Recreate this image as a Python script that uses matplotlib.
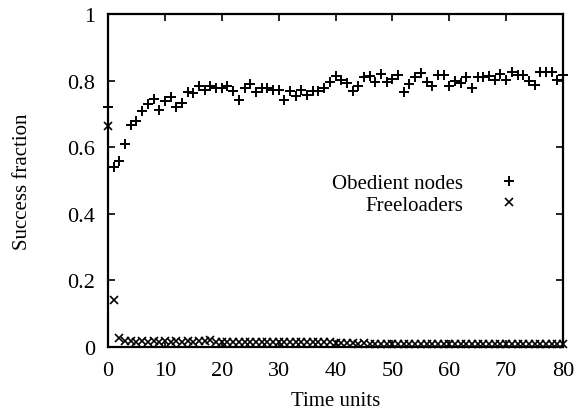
import matplotlib
matplotlib.use("Agg")
import matplotlib.pyplot as plt
import numpy as np

time_units = list(range(0, 81))

obedient = [
    0.72, 0.54, 0.56, 0.61, 0.667, 0.68, 0.71, 0.73, 0.745, 0.713,
    0.74, 0.75, 0.72, 0.733, 0.765, 0.763, 0.785, 0.772, 0.783, 0.778,
    0.778, 0.783, 0.768, 0.742, 0.777, 0.79, 0.767, 0.778, 0.777, 0.772,
    0.772, 0.743, 0.768, 0.753, 0.772, 0.757, 0.77, 0.768, 0.778, 0.797,
    0.813, 0.803, 0.793, 0.768, 0.785, 0.81, 0.813, 0.795, 0.82, 0.795,
    0.805, 0.817, 0.766, 0.79, 0.81, 0.822, 0.795, 0.783, 0.817, 0.817,
    0.783, 0.798, 0.792, 0.812, 0.777, 0.812, 0.812, 0.815, 0.802, 0.82,
    0.803, 0.827, 0.817, 0.817, 0.80, 0.787, 0.825, 0.825, 0.825, 0.802,
    0.818,
]

freeloaders = [
    0.665, 0.14, 0.028, 0.017, 0.017, 0.016, 0.017, 0.016, 0.017, 0.016,
    0.017, 0.016, 0.017, 0.016, 0.017, 0.016, 0.017, 0.017, 0.022, 0.016,
    0.016, 0.016, 0.015, 0.016, 0.015, 0.016, 0.015, 0.016, 0.015, 0.016,
    0.015, 0.015, 0.015, 0.014, 0.015, 0.014, 0.015, 0.014, 0.014, 0.015,
    0.013, 0.012, 0.011, 0.011, 0.010, 0.011, 0.010, 0.010, 0.010, 0.010,
    0.010, 0.010, 0.009, 0.010, 0.009, 0.010, 0.009, 0.009, 0.009, 0.009,
    0.010, 0.009, 0.009, 0.009, 0.009, 0.009, 0.009, 0.009, 0.009, 0.009,
    0.009, 0.009, 0.009, 0.009, 0.009, 0.009, 0.009, 0.009, 0.009, 0.009,
    0.009,
]

x_ticks = [0, 10, 20, 30, 40, 50, 60, 70, 80]
y_ticks = [0, 0.2, 0.4, 0.6, 0.8, 1]
y_tick_labels = ["0", "0.2", "0.4", "0.6", "0.8", "1"]

plt.rcParams['font.family'] = ['Liberation Serif', 'DejaVu Serif']

fig = plt.figure(figsize=(5.78, 4.14), dpi=100)
ax = fig.add_axes([108/578, 1-348/414, (563-108)/578, (348-15)/414])

ax.plot(time_units, obedient, linestyle='none', marker='+', markersize=7,
        markeredgewidth=1.4, color='black', label='Obedient nodes',
        clip_on=False, zorder=3)
ax.plot(time_units, freeloaders, linestyle='none', marker='x', markersize=6,
        markeredgewidth=1.2, color='black', label='Freeloaders',
        clip_on=False, zorder=3)

ax.set_xlim(0, 80)
ax.set_ylim(0, 1)
ax.set_xticks(x_ticks)
ax.set_xticklabels([str(t) for t in x_ticks])
ax.set_yticks(y_ticks)
ax.set_yticklabels(y_tick_labels)

ax.tick_params(direction='in', length=5, width=1.2, top=True, right=True,
               labelsize=16, colors='black')
ax.tick_params(axis='x', pad=10)
ax.tick_params(axis='y', pad=9)
for s in ax.spines.values():
    s.set_linewidth(1.6)
    s.set_color('black')

ax.set_xlabel('Time units', fontsize=15, labelpad=8)
ax.set_ylabel('Success fraction', fontsize=15, labelpad=26)

leg = ax.legend(markerfirst=False, frameon=False, loc='upper right',
                bbox_to_anchor=(0.94, 0.565), fontsize=15,
                handlelength=1.2, handletextpad=1.6, labelspacing=0.1,
                borderpad=0.2)

fig.savefig('out.png', dpi=100)
